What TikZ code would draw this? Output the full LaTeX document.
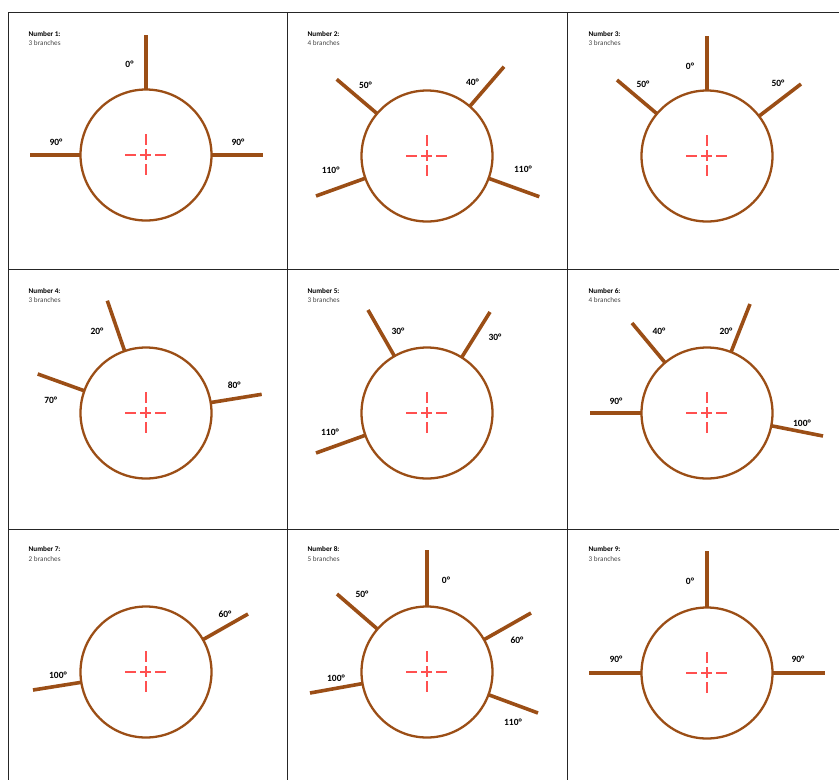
\documentclass[tikz,border=0pt]{standalone}
\usepackage{fontspec}
\setmainfont{Carlito}
\usetikzlibrary{calc}
\definecolor{brownline}{RGB}{155,78,22}
\definecolor{crossred}{RGB}{255,80,80}
\definecolor{subgray}{RGB}{70,70,70}
\tikzset{
  gridline/.style={line width=1pt,draw=black!85},
  ring/.style={line width=2.3pt,draw=brownline},
  branchline/.style={line width=3.6pt,draw=brownline},
  crossline/.style={line width=1.5pt,draw=crossred,dash pattern=on 11pt off 4pt},
  deglabel/.style={font=\fontsize{9.5}{10}\selectfont\bfseries,inner sep=0pt},
  headtitle/.style={font=\fontsize{7.2}{8}\selectfont\bfseries,inner sep=0pt,anchor=west},
  headsub/.style={font=\fontsize{7.2}{8}\selectfont,text=subgray,inner sep=0pt,anchor=west}
}
\newcommand{\panel}[3]{%
  \coordinate (#1) at (#2,#3);
  \draw[ring] (#1) circle (65.5);
  \draw[crossline] ($(#1)+(-21,0)$) -- ($(#1)+(21,0)$);
  \draw[crossline] ($(#1)+(0,-21)$) -- ($(#1)+(0,21)$);
}
\newcommand{\branchto}[3]{%
  \coordinate (#2) at (#3);
  \draw[branchline] ($(#1)!65.5pt!(#2)$) -- (#2);
}
\begin{document}
\begin{tikzpicture}[x=1pt,y=-1pt]
\useasboundingbox (0,0) rectangle (839,780);
% grid
\draw[gridline] (8,12) -- (839,12);
\draw[gridline] (8,269) -- (839,269);
\draw[gridline] (8,529) -- (839,529);
\draw[gridline] (8,12) -- (8,780);
\draw[gridline] (287,12) -- (287,780);
\draw[gridline] (567,12) -- (567,780);
% headers
\node[headtitle] (h1) at (28.5,33.5) {Number 1:};
\node[headsub] (s1) at (28.5,43.5) {3 branches};
\node[headtitle] (h2) at (307.5,33.5) {Number 2:};
\node[headsub] (s2) at (307.5,43.5) {4 branches};
\node[headtitle] (h3) at (588.5,33.5) {Number 3:};
\node[headsub] (s3) at (588.5,43.5) {3 branches};
\node[headtitle] (h4) at (28.5,290.5) {Number 4:};
\node[headsub] (s4) at (28.5,300.5) {3 branches};
\node[headtitle] (h5) at (307.5,290.5) {Number 5:};
\node[headsub] (s5) at (307.5,300.5) {3 branches};
\node[headtitle] (h6) at (588.5,290.5) {Number 6:};
\node[headsub] (s6) at (588.5,300.5) {4 branches};
\node[headtitle] (h7) at (28.5,549) {Number 7:};
\node[headsub] (s7) at (28.5,559) {2 branches};
\node[headtitle] (h8) at (307.5,549) {Number 8:};
\node[headsub] (s8) at (307.5,559) {5 branches};
\node[headtitle] (h9) at (588.5,549) {Number 9:};
\node[headsub] (s9) at (588.5,559) {3 branches};
% panel 1
\panel{c1}{146}{155}
\branchto{c1}{e1a}{146,35}
\branchto{c1}{e1b}{29.5,155}
\branchto{c1}{e1c}{263,155}
\node[deglabel] (l1a) at (129.5,64.5) {0°};
\node[deglabel] (l1b) at (56,142) {90°};
\node[deglabel] (l1c) at (238,142) {90°};
% panel 2
\panel{c2}{427}{156}
\branchto{c2}{e2a}{336.7,79.3}
\branchto{c2}{e2b}{504,66.7}
\branchto{c2}{e2c}{316,196}
\branchto{c2}{e2d}{539.3,196.7}
\node[deglabel] (l2a) at (365.5,85.5) {50°};
\node[deglabel] (l2b) at (472.5,82.3) {40°};
\node[deglabel] (l2c) at (330.7,170.3) {110°};
\node[deglabel] (l2d) at (523,169) {110°};
% panel 3
\panel{c3}{707}{156}
\branchto{c3}{e3a}{707,36}
\branchto{c3}{e3b}{617,80}
\branchto{c3}{e3c}{801,84}
\node[deglabel] (l3a) at (690,66) {0°};
\node[deglabel] (l3b) at (643,84) {50°};
\node[deglabel] (l3c) at (778,83) {50°};
% panel 4
\panel{c4}{146}{413}
\branchto{c4}{e4a}{107.3,300.7}
\branchto{c4}{e4b}{37.7,374}
\branchto{c4}{e4c}{261.7,394.3}
\node[deglabel] (l4a) at (97,331.7) {20°};
\node[deglabel] (l4b) at (50.7,400) {70°};
\node[deglabel] (l4c) at (234.3,385.5) {80°};
% panel 5
\panel{c5}{427}{413}
\branchto{c5}{e5a}{368,310}
\branchto{c5}{e5b}{490,312}
\branchto{c5}{e5c}{316,453}
\node[deglabel] (l5a) at (398,331) {30°};
\node[deglabel] (l5b) at (495,337) {30°};
\node[deglabel] (l5c) at (330,432) {110°};
% panel 6
\panel{c6}{707}{413}
\branchto{c6}{e6a}{632,323}
\branchto{c6}{e6b}{750,304}
\branchto{c6}{e6c}{590,413}
\branchto{c6}{e6d}{823,436}
\node[deglabel] (l6a) at (659,331) {40°};
\node[deglabel] (l6b) at (726,331) {20°};
\node[deglabel] (l6c) at (616,401) {90°};
\node[deglabel] (l6d) at (802,423) {100°};
% panel 7
\panel{c7}{146}{672}
\branchto{c7}{e7a}{248,614}
\branchto{c7}{e7b}{33,690}
\node[deglabel] (l7a) at (225,614) {60°};
\node[deglabel] (l7b) at (58,675) {100°};
% panel 8
\panel{c8}{427}{672}
\branchto{c8}{e8a}{427,550}
\branchto{c8}{e8b}{337,594}
\branchto{c8}{e8c}{531,613}
\branchto{c8}{e8d}{310,693}
\branchto{c8}{e8e}{538,713}
\node[deglabel] (l8a) at (446,580) {0°};
\node[deglabel] (l8b) at (362,594) {50°};
\node[deglabel] (l8c) at (517,640) {60°};
\node[deglabel] (l8d) at (336,678) {100°};
\node[deglabel] (l8e) at (513,722) {110°};
% panel 9
\panel{c9}{707}{673}
\branchto{c9}{e9a}{707,551}
\branchto{c9}{e9b}{589,673}
\branchto{c9}{e9c}{825,673}
\node[deglabel] (l9a) at (690,581) {0°};
\node[deglabel] (l9b) at (616,659.3) {90°};
\node[deglabel] (l9c) at (798,659.3) {90°};
\end{tikzpicture}
\end{document}
